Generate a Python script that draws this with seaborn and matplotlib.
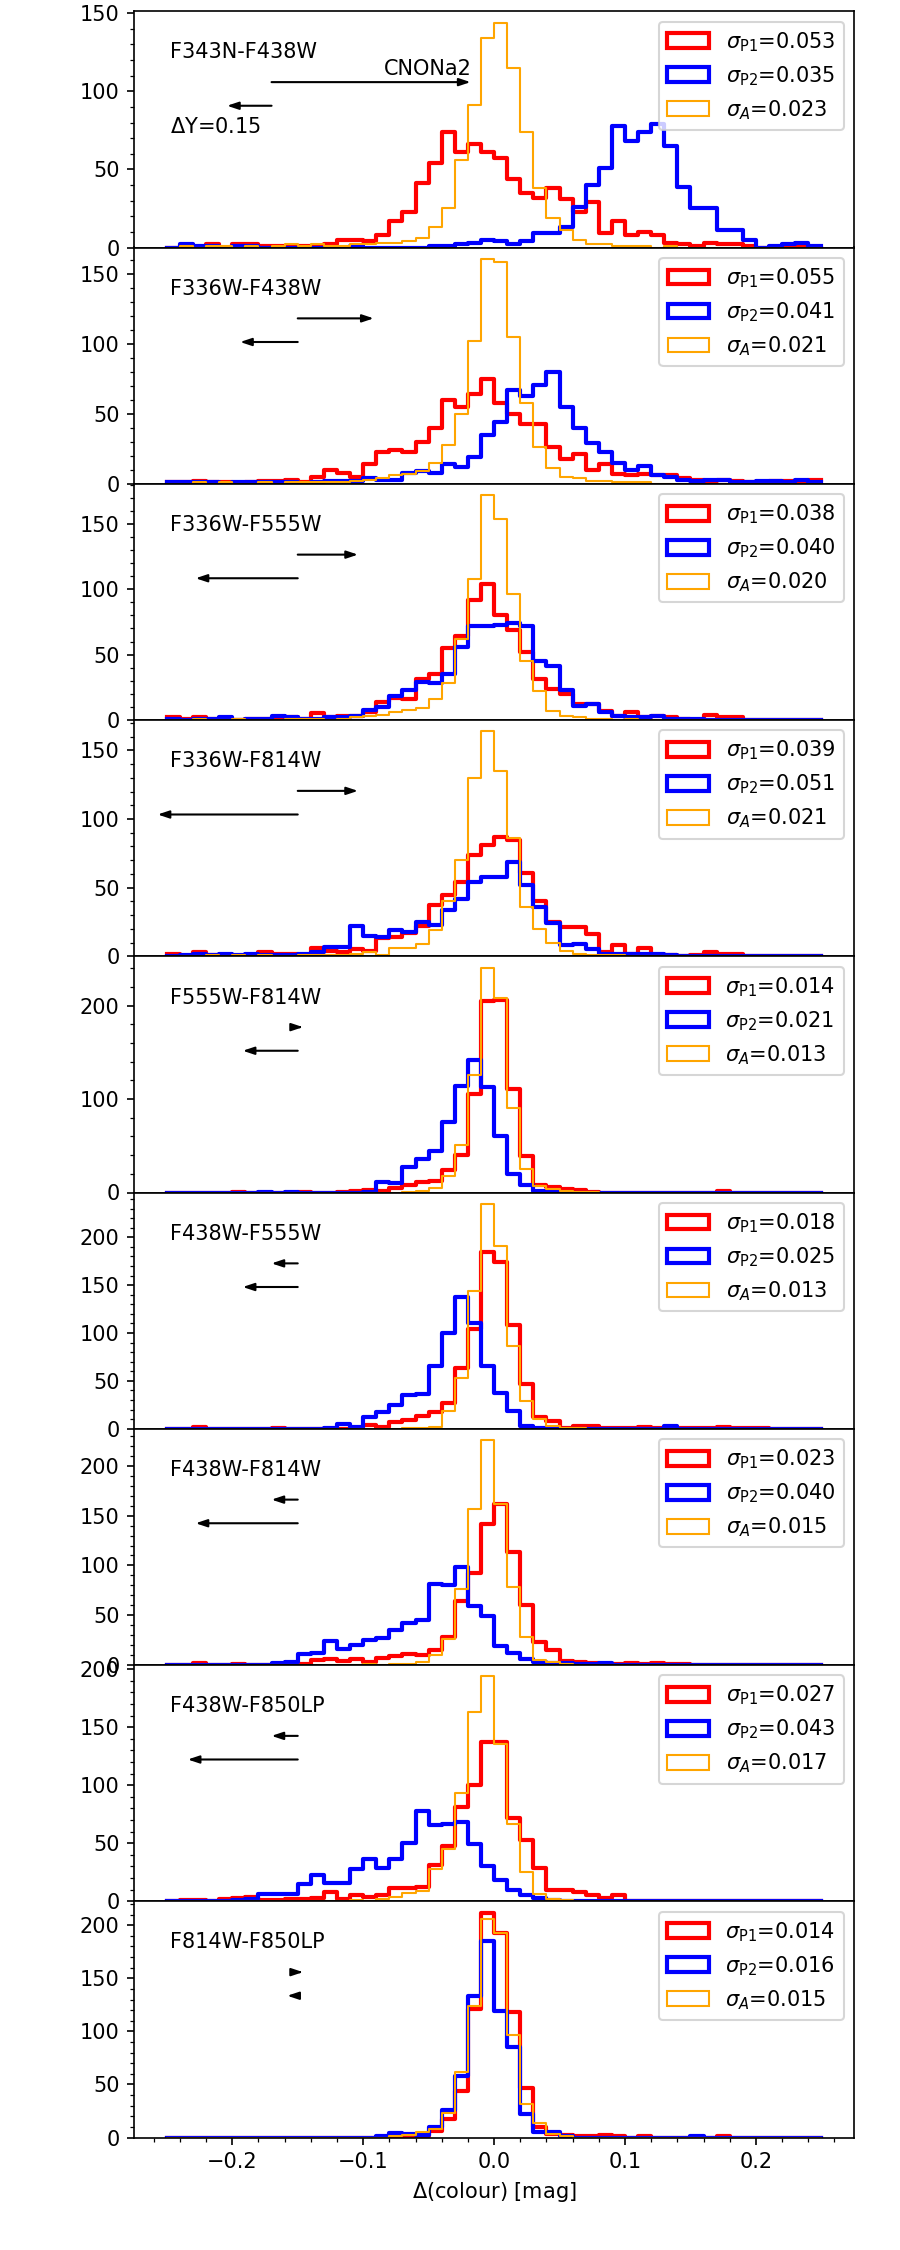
# Colour-spread histograms of the three populations for nine colour combinations
import numpy as np
import pandas as pd
import matplotlib
matplotlib.use('Agg')
import matplotlib.pyplot as plt
from matplotlib.patches import Patch
import seaborn as sns

# bins of 0.01 mag between -0.25 and 0.25
bin_centres = np.round(np.arange(-0.245, 0.25, 0.01), 3)

colours = ['F343N-F438W', 'F336W-F438W', 'F336W-F555W', 'F336W-F814W', 'F555W-F814W',
           'F438W-F555W', 'F438W-F814W', 'F438W-F850LP', 'F814W-F850LP']

sigma_p1 = ['0.053', '0.055', '0.038', '0.039', '0.014', '0.018', '0.023', '0.027', '0.014']
sigma_p2 = ['0.035', '0.041', '0.040', '0.051', '0.021', '0.025', '0.040', '0.043', '0.016']
sigma_a = ['0.023', '0.021', '0.020', '0.021', '0.013', '0.013', '0.015', '0.017', '0.015']

# counts per bin (P1 = red, P2 = blue, A = orange)
p1_f343n_f438w = [0, 1, 0, 2, 0, 2, 2, 1, 1, 1, 1, 1, 2, 5, 5, 4, 8, 17, 23, 41,
                  54, 74, 61, 66, 61, 57, 44, 35, 32, 38, 31, 23, 29, 9, 17, 8, 10, 8, 3, 2,
                  1, 3, 2, 2, 1, 0, 0, 0, 1, 0]
p2_f343n_f438w = [0, 2, 1, 1, 0, 1, 1, 0, 0, 0, 0, 0, 0, 0, 1, 0, 0, 0, 0, 0,
                  1, 1, 2, 3, 5, 4, 2, 4, 9, 9, 13, 26, 40, 51, 78, 68, 74, 79, 65, 39,
                  25, 25, 11, 11, 5, 0, 1, 2, 3, 1]
a_f343n_f438w = [0, 1, 0, 1, 1, 0, 1, 0, 1, 2, 1, 2, 1, 1, 2, 2, 3, 3, 4, 6,
                 13, 25, 56, 91, 134, 144, 115, 74, 38, 19, 11, 5, 2, 2, 1, 1, 1, 0, 1, 0,
                 0, 0, 0, 0, 0, 0, 0, 0, 0, 0]

p1_f336w_f438w = [1, 1, 2, 1, 1, 0, 1, 2, 2, 3, 1, 5, 10, 8, 5, 14, 23, 24, 23, 30,
                  40, 60, 55, 64, 75, 58, 50, 43, 43, 26, 18, 21, 10, 14, 7, 6, 7, 6, 6, 4,
                  3, 2, 3, 2, 1, 1, 2, 2, 2, 3]
p2_f336w_f438w = [1, 1, 1, 1, 0, 1, 1, 1, 1, 1, 0, 1, 2, 2, 2, 4, 3, 3, 8, 9,
                  8, 14, 12, 19, 35, 44, 67, 63, 71, 80, 55, 40, 29, 23, 15, 10, 13, 6, 5, 3,
                  2, 3, 3, 1, 1, 2, 2, 1, 3, 1]
a_f336w_f438w = [0, 0, 1, 0, 1, 0, 0, 1, 0, 1, 1, 1, 1, 1, 2, 3, 4, 6, 7, 9,
                 15, 28, 50, 102, 161, 159, 105, 58, 26, 11, 5, 4, 2, 2, 1, 1, 1, 0, 0, 0,
                 0, 0, 0, 0, 0, 0, 0, 0, 0, 0]

p1_f336w_f555w = [2, 1, 2, 1, 1, 0, 1, 1, 1, 2, 1, 5, 2, 3, 3, 6, 14, 17, 16, 31,
                  35, 55, 64, 92, 104, 80, 69, 52, 31, 24, 20, 12, 12, 7, 3, 6, 2, 3, 2, 1,
                  0, 4, 2, 2, 0, 0, 0, 0, 0, 0]
p2_f336w_f555w = [1, 0, 1, 1, 2, 0, 1, 1, 3, 2, 1, 1, 2, 2, 3, 8, 10, 18, 23, 29,
                  28, 35, 56, 72, 72, 73, 74, 72, 45, 41, 23, 11, 12, 6, 3, 2, 2, 3, 1, 1,
                  1, 0, 0, 0, 0, 0, 0, 0, 0, 0]
a_f336w_f555w = [0, 0, 1, 0, 0, 1, 0, 0, 0, 1, 1, 1, 0, 1, 2, 3, 4, 6, 8, 9,
                 16, 28, 62, 108, 172, 154, 96, 45, 22, 7, 3, 2, 1, 1, 0, 1, 0, 0, 0, 0,
                 0, 0, 0, 0, 0, 0, 0, 0, 0, 0]

p1_f336w_f814w = [2, 0, 3, 1, 1, 0, 1, 3, 2, 2, 1, 6, 4, 3, 5, 4, 13, 14, 17, 22,
                  37, 45, 54, 74, 81, 87, 85, 61, 40, 25, 21, 21, 16, 3, 8, 2, 6, 1, 1, 0,
                  1, 3, 2, 2, 0, 0, 0, 0, 0, 0]
p2_f336w_f814w = [0, 1, 2, 1, 2, 1, 2, 1, 1, 1, 2, 3, 7, 7, 22, 15, 14, 19, 18, 25,
                  23, 34, 42, 54, 58, 58, 69, 52, 36, 24, 8, 9, 5, 2, 2, 2, 2, 2, 1, 0,
                  0, 0, 0, 0, 0, 0, 0, 0, 0, 0]
a_f336w_f814w = [0, 0, 0, 1, 0, 1, 0, 1, 0, 0, 1, 1, 1, 1, 2, 3, 1, 6, 6, 9,
                 19, 40, 70, 130, 164, 135, 86, 36, 20, 10, 4, 2, 1, 1, 1, 0, 0, 0, 0, 0,
                 0, 0, 0, 0, 0, 0, 0, 0, 0, 0]

p1_f555w_f814w = [0, 0, 0, 0, 0, 1, 0, 0, 0, 0, 1, 0, 0, 1, 2, 3, 2, 5, 8, 11,
                  12, 24, 40, 105, 205, 206, 111, 39, 8, 6, 4, 3, 1, 0, 0, 0, 0, 0, 0, 0,
                  0, 0, 2, 0, 0, 0, 0, 0, 0, 0]
p2_f555w_f814w = [0, 0, 0, 0, 0, 0, 0, 1, 0, 1, 0, 0, 0, 0, 0, 1, 11, 10, 27, 36,
                  44, 75, 114, 142, 113, 60, 20, 8, 2, 1, 0, 0, 0, 0, 0, 0, 0, 0, 0, 0,
                  0, 0, 0, 0, 0, 0, 0, 0, 0, 0]
a_f555w_f814w = [0, 0, 0, 0, 0, 0, 0, 0, 0, 0, 0, 0, 0, 0, 0, 0, 0, 0, 1, 2,
                 5, 18, 51, 126, 241, 208, 90, 25, 7, 4, 2, 1, 1, 0, 0, 0, 0, 0, 0, 0,
                 0, 0, 0, 0, 0, 0, 0, 0, 0, 0]

p1_f438w_f555w = [0, 0, 2, 0, 0, 0, 0, 0, 1, 0, 0, 0, 0, 0, 0, 4, 2, 7, 9, 13,
                  17, 27, 63, 104, 185, 174, 108, 47, 12, 8, 1, 3, 3, 1, 1, 1, 2, 1, 1, 1,
                  1, 1, 2, 1, 1, 1, 0, 0, 0, 0]
p2_f438w_f555w = [0, 0, 0, 0, 0, 0, 0, 0, 0, 0, 0, 0, 1, 5, 2, 12, 18, 25, 35, 36,
                  66, 100, 138, 110, 66, 37, 19, 3, 1, 0, 0, 0, 0, 0, 0, 0, 0, 0, 3, 0,
                  0, 0, 0, 0, 0, 0, 0, 0, 0, 0]
a_f438w_f555w = [0, 0, 0, 0, 0, 0, 0, 0, 0, 0, 0, 0, 0, 0, 0, 0, 0, 0, 1, 1,
                 2, 19, 53, 144, 235, 191, 86, 29, 10, 3, 1, 1, 0, 0, 0, 0, 0, 0, 0, 0,
                 0, 0, 0, 0, 0, 0, 0, 0, 0, 0]

p1_f438w_f814w = [0, 0, 2, 0, 0, 1, 0, 0, 1, 0, 1, 5, 6, 4, 6, 3, 7, 9, 11, 10,
                  15, 28, 64, 92, 142, 162, 114, 60, 23, 15, 4, 3, 2, 1, 1, 2, 1, 2, 1, 1,
                  0, 0, 0, 0, 0, 0, 0, 0, 0, 0]
p2_f438w_f814w = [0, 0, 0, 0, 0, 0, 0, 0, 2, 3, 11, 12, 24, 16, 20, 25, 27, 35, 42, 45,
                  81, 80, 98, 59, 49, 19, 12, 6, 3, 2, 2, 1, 1, 2, 0, 0, 0, 0, 0, 0,
                  0, 0, 0, 0, 0, 0, 0, 0, 0, 0]
a_f438w_f814w = [0, 0, 0, 0, 0, 0, 0, 0, 0, 0, 0, 0, 0, 0, 0, 1, 0, 1, 1, 3,
                 10, 26, 76, 157, 226, 162, 78, 28, 5, 3, 1, 0, 0, 0, 0, 0, 0, 0, 0, 0,
                 0, 0, 0, 0, 0, 0, 0, 0, 0, 0]

p1_f438w_f850lp = [0, 1, 1, 0, 2, 3, 4, 1, 1, 2, 2, 3, 8, 2, 5, 4, 5, 11, 11, 12,
                   31, 48, 81, 100, 137, 137, 72, 53, 29, 10, 10, 8, 5, 3, 5, 0, 0, 0, 0, 0,
                   0, 0, 0, 0, 0, 0, 0, 0, 0, 0]
p2_f438w_f850lp = [0, 0, 0, 0, 0, 1, 2, 6, 6, 6, 15, 23, 16, 16, 28, 36, 29, 36, 50, 78,
                   66, 67, 68, 49, 30, 18, 10, 5, 3, 1, 0, 0, 0, 0, 0, 0, 0, 0, 0, 0,
                   0, 0, 0, 0, 0, 0, 0, 0, 0, 0]
a_f438w_f850lp = [0, 0, 0, 0, 0, 0, 0, 0, 0, 0, 0, 0, 0, 0, 1, 0, 2, 4, 7, 9,
                  28, 45, 93, 163, 194, 136, 67, 25, 6, 2, 1, 0, 0, 0, 0, 0, 0, 0, 0, 0,
                  0, 0, 0, 0, 0, 0, 0, 0, 0, 0]

p1_f814w_f850lp = [0, 0, 0, 0, 0, 0, 0, 0, 0, 0, 0, 0, 0, 0, 0, 0, 0, 0, 0, 1,
                   6, 17, 44, 121, 212, 193, 118, 47, 10, 3, 2, 1, 1, 2, 1, 0, 1, 0, 0, 0,
                   0, 0, 1, 0, 0, 0, 0, 0, 0, 0]
p2_f814w_f850lp = [0, 0, 0, 0, 0, 0, 0, 0, 0, 0, 0, 0, 0, 0, 0, 0, 1, 4, 3, 2,
                   10, 26, 58, 133, 185, 119, 85, 22, 5, 5, 1, 0, 0, 0, 0, 0, 0, 0, 0, 0,
                   1, 0, 0, 0, 0, 0, 0, 0, 0, 0]
a_f814w_f850lp = [0, 0, 0, 0, 0, 0, 0, 0, 0, 0, 0, 0, 0, 0, 0, 0, 0, 1, 2, 5,
                  8, 23, 62, 124, 206, 193, 97, 32, 14, 3, 1, 0, 0, 0, 0, 0, 0, 0, 0, 0,
                  0, 0, 0, 0, 0, 0, 0, 0, 0, 0]

p1_counts = [p1_f343n_f438w, p1_f336w_f438w, p1_f336w_f555w, p1_f336w_f814w, p1_f555w_f814w,
             p1_f438w_f555w, p1_f438w_f814w, p1_f438w_f850lp, p1_f814w_f850lp]
p2_counts = [p2_f343n_f438w, p2_f336w_f438w, p2_f336w_f555w, p2_f336w_f814w, p2_f555w_f814w,
             p2_f438w_f555w, p2_f438w_f814w, p2_f438w_f850lp, p2_f814w_f850lp]
a_counts = [a_f343n_f438w, a_f336w_f438w, a_f336w_f555w, a_f336w_f814w, a_f555w_f814w,
            a_f438w_f555w, a_f438w_f814w, a_f438w_f850lp, a_f814w_f850lp]

# colour shifts (start, end) for CNONa2 (upper arrow) and dY=0.15 (lower arrow)
arrow_start = [-0.17, -0.15, -0.15, -0.15, -0.15, -0.15, -0.15, -0.15, -0.15]
cnona_end = [-0.018, -0.092, -0.104, -0.104, -0.146, -0.170, -0.170, -0.170, -0.146]
helium_end = [-0.204, -0.194, -0.228, -0.257, -0.192, -0.192, -0.228, -0.234, -0.158]

fig, axes = plt.subplots(9, 1, figsize=(6, 15), dpi=150, sharex=True)
fig.subplots_adjust(left=0.149, right=0.949, top=0.995, bottom=0.05, hspace=0)

for i, ax in enumerate(axes):
    for counts, col, lw in [(p1_counts[i], 'red', 2), (p2_counts[i], 'blue', 2), (a_counts[i], 'orange', 1)]:
        df = pd.DataFrame({'dcol': bin_centres, 'n': counts})
        sns.histplot(data=df, x='dcol', weights='n', binwidth=0.01, binrange=(-0.25, 0.25),
                     element='step', fill=False, color=col, linewidth=lw, ax=ax)
    top = max(max(p1_counts[i]), max(p2_counts[i]), max(a_counts[i]))
    ax.set_ylim(0, 1.05 * top)
    ax.set_xlim(-0.275, 0.275)
    ax.set_ylabel('')
    ax.set_xlabel('')
    ax.minorticks_on()

    ax.text(0.05, 0.8, colours[i], transform=ax.transAxes, fontsize=10)
    for end, yf in [(cnona_end[i], 0.7), (helium_end[i], 0.6)]:
        ax.annotate('', xy=(end, yf), xytext=(arrow_start[i], yf),
                    xycoords=('data', 'axes fraction'), textcoords=('data', 'axes fraction'),
                    arrowprops=dict(arrowstyle='-|>,head_length=0.45,head_width=0.15',
                                    color='black', lw=1, shrinkA=0, shrinkB=0))
    if i == 0:
        ax.text(cnona_end[i] + 0.001, 0.73, 'CNONa2', transform=ax.get_xaxis_transform(),
                ha='right', va='baseline', fontsize=10)
        ax.text(0.05, 0.485, r'$\Delta$Y=0.15', transform=ax.transAxes, fontsize=10)

    handles = [Patch(facecolor='none', edgecolor='red', linewidth=2),
               Patch(facecolor='none', edgecolor='blue', linewidth=2),
               Patch(facecolor='none', edgecolor='orange', linewidth=1)]
    labels = [r'$\sigma_{\rm P1}$=' + sigma_p1[i], r'$\sigma_{\rm P2}$=' + sigma_p2[i],
              r'$\sigma_{A}$=' + sigma_a[i]]
    ax.legend(handles, labels, loc='upper right')

axes[-1].set_xlabel(r'$\Delta$(colour) [mag]')

plt.savefig('out.png')
